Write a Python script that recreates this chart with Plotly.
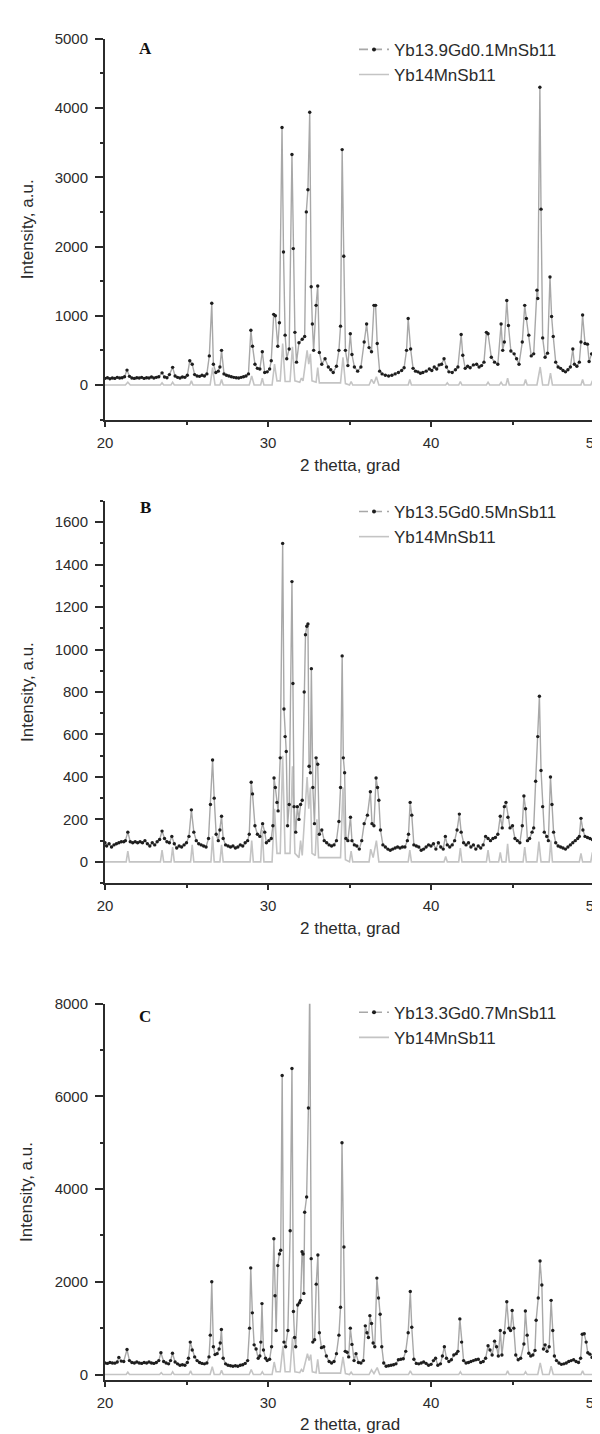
import plotly.graph_objects as go

# ---------------- data ----------------
X_TICKS = [20, 30, 40, 50]

A_NAME = "Yb13.9Gd0.1MnSb11"
B_NAME = "Yb13.5Gd0.5MnSb11"
C_NAME = "Yb13.3Gd0.7MnSb11"
REF_NAME = "Yb14MnSb11"

A_SAMPLE = [(20.0,95),(20.15,105),(20.3,90),(20.45,100),(20.6,95),(20.75,110),(20.9,100),(21.05,105),(21.2,120),(21.35,215),(21.5,125),(21.65,100),(21.8,95),(21.95,105),(22.1,100),(22.25,110),(22.4,95),(22.55,105),(22.7,100),(22.85,115),(23.0,100),(23.15,110),(23.3,120),(23.5,175),(23.65,115),(23.8,105),(23.95,150),(24.15,255),(24.3,130),(24.45,110),(24.6,100),(24.75,115),(24.9,110),(25.05,140),(25.2,350),(25.35,300),(25.5,150),(25.65,130),(25.8,125),(25.95,140),(26.1,130),(26.25,160),(26.4,420),(26.55,1180),(26.65,300),(26.8,180),(26.95,200),(27.05,260),(27.15,500),(27.3,160),(27.45,140),(27.6,130),(27.75,120),(27.9,110),(28.05,105),(28.2,100),(28.35,110),(28.5,120),(28.65,130),(28.8,160),(28.95,790),(29.05,560),(29.2,300),(29.35,240),(29.5,230),(29.65,480),(29.8,180),(29.95,190),(30.1,230),(30.2,350),(30.35,1020),(30.45,1000),(30.6,560),(30.7,900),(30.86,3720),(30.95,1920),(31.05,720),(31.15,380),(31.3,520),(31.47,3330),(31.55,1970),(31.65,760),(31.75,330),(31.9,610),(32.1,660),(32.25,700),(32.35,2500),(32.45,2820),(32.56,3940),(32.65,1420),(32.72,880),(32.8,500),(32.95,1150),(33.05,1430),(33.15,470),(33.3,300),(33.5,380),(33.7,260),(33.85,220),(34.0,180),(34.2,270),(34.35,500),(34.45,850),(34.55,3400),(34.65,1860),(34.75,500),(34.9,280),(35.05,740),(35.15,440),(35.3,260),(35.5,200),(35.7,260),(35.9,620),(36.05,880),(36.2,540),(36.35,480),(36.5,1150),(36.6,1150),(36.7,600),(36.85,200),(37.0,160),(37.2,140),(37.4,130),(37.6,140),(37.8,160),(38.0,180),(38.2,210),(38.35,250),(38.5,500),(38.6,960),(38.75,520),(38.9,240),(39.05,200),(39.2,190),(39.35,170),(39.5,180),(39.7,200),(39.9,230),(40.05,210),(40.2,260),(40.35,230),(40.5,290),(40.65,300),(40.8,380),(40.95,260),(41.1,190),(41.3,180),(41.5,220),(41.65,260),(41.85,730),(41.95,430),(42.1,240),(42.25,270),(42.4,250),(42.6,290),(42.8,300),(42.95,260),(43.1,280),(43.25,330),(43.4,760),(43.5,740),(43.7,400),(43.9,330),(44.1,300),(44.3,880),(44.4,500),(44.5,620),(44.65,1220),(44.75,860),(44.9,490),(45.1,450),(45.25,380),(45.4,300),(45.6,620),(45.75,1150),(45.85,960),(46.0,720),(46.15,420),(46.3,450),(46.5,1370),(46.55,1250),(46.68,4300),(46.75,2540),(46.85,680),(47.0,400),(47.15,460),(47.3,1560),(47.4,990),(47.5,700),(47.65,330),(47.8,260),(47.95,240),(48.1,210),(48.25,190),(48.4,220),(48.55,260),(48.7,520),(48.8,300),(48.95,270),(49.1,330),(49.2,620),(49.3,1010),(49.45,600),(49.6,590),(49.7,340),(49.85,450),(50.0,400)]

A_REF = [(20.0,0),(21.25,0),(21.4,40),(21.55,0),(23.4,0),(23.5,30),(23.6,0),(24.05,0),(24.15,40),(24.25,0),(25.2,0),(25.3,60),(25.4,0),(26.45,0),(26.6,250),(26.75,0),(27.05,0),(27.15,80),(27.25,0),(28.85,0),(29.0,130),(29.15,0),(29.55,0),(29.65,100),(29.75,0),(30.25,0),(30.4,300),(30.55,60),(30.75,60),(30.9,600),(31.05,50),(31.35,50),(31.5,550),(31.65,60),(31.95,40),(32.05,100),(32.15,60),(32.3,300),(32.4,500),(32.5,300),(32.6,450),(32.7,60),(32.95,40),(33.05,250),(33.15,30),(34.45,30),(34.6,400),(34.75,20),(35.0,0),(35.1,50),(35.2,0),(36.2,0),(36.35,80),(36.5,20),(36.65,120),(36.8,0),(38.6,0),(38.7,80),(38.8,0),(40.9,0),(41.0,30),(41.1,0),(41.7,0),(41.8,50),(41.9,0),(43.4,0),(43.5,40),(43.6,0),(44.2,0),(44.3,40),(44.4,0),(44.6,0),(44.7,100),(44.8,0),(45.7,0),(45.8,80),(45.9,0),(46.5,0),(46.7,260),(46.85,0),(47.2,0),(47.33,170),(47.45,0),(49.2,0),(49.3,80),(49.4,0),(49.8,0),(49.9,60),(50.0,0)]

B_SAMPLE = [(20.0,90),(20.1,75),(20.25,85),(20.4,70),(20.55,80),(20.7,85),(20.85,90),(21.0,95),(21.15,95),(21.25,100),(21.4,140),(21.55,95),(21.7,90),(21.85,95),(22.0,90),(22.15,95),(22.3,90),(22.45,100),(22.6,85),(22.75,75),(22.9,90),(23.05,80),(23.2,95),(23.35,105),(23.5,145),(23.65,110),(23.8,95),(23.95,90),(24.1,120),(24.25,85),(24.4,65),(24.55,75),(24.7,70),(24.85,80),(25.0,90),(25.15,120),(25.3,245),(25.45,140),(25.6,100),(25.75,85),(25.9,80),(26.05,75),(26.2,70),(26.35,110),(26.47,270),(26.6,480),(26.7,300),(26.82,130),(26.95,100),(27.05,150),(27.15,215),(27.25,110),(27.4,80),(27.55,75),(27.7,70),(27.85,75),(28.0,65),(28.15,70),(28.3,80),(28.45,75),(28.6,90),(28.75,100),(28.85,130),(28.97,375),(29.05,320),(29.2,170),(29.35,130),(29.5,120),(29.67,180),(29.8,140),(29.9,90),(30.05,100),(30.2,110),(30.3,170),(30.37,395),(30.45,350),(30.55,280),(30.62,240),(30.75,490),(30.9,1500),(30.98,720),(31.05,590),(31.12,520),(31.2,170),(31.3,270),(31.47,1320),(31.53,840),(31.6,260),(31.7,140),(31.8,260),(31.9,200),(32.0,270),(32.1,290),(32.22,800),(32.3,1070),(32.38,1110),(32.45,1120),(32.52,450),(32.6,420),(32.66,910),(32.75,350),(32.85,180),(32.95,490),(33.05,460),(33.15,130),(33.3,150),(33.45,100),(33.6,90),(33.75,80),(33.9,75),(34.05,80),(34.2,100),(34.35,190),(34.45,350),(34.55,970),(34.62,490),(34.7,420),(34.78,110),(34.9,100),(35.06,210),(35.15,100),(35.3,80),(35.45,75),(35.6,60),(35.75,100),(35.9,180),(36.1,220),(36.28,330),(36.38,180),(36.5,170),(36.63,395),(36.72,350),(36.8,290),(36.9,150),(37.05,80),(37.2,70),(37.35,60),(37.5,55),(37.65,60),(37.8,65),(37.95,70),(38.1,65),(38.25,70),(38.4,70),(38.55,100),(38.62,130),(38.72,280),(38.82,220),(38.95,80),(39.1,75),(39.25,70),(39.4,55),(39.55,60),(39.7,70),(39.85,80),(40.0,75),(40.15,85),(40.3,60),(40.45,90),(40.6,70),(40.75,60),(40.88,120),(41.0,80),(41.15,70),(41.3,80),(41.45,100),(41.6,150),(41.74,225),(41.85,140),(42.0,90),(42.15,80),(42.3,90),(42.45,70),(42.6,80),(42.75,60),(42.9,75),(43.05,65),(43.2,80),(43.35,120),(43.5,110),(43.65,100),(43.8,110),(43.95,115),(44.1,130),(44.25,215),(44.37,160),(44.5,260),(44.6,280),(44.72,210),(44.85,160),(45.0,170),(45.15,110),(45.3,100),(45.45,90),(45.6,170),(45.7,310),(45.8,250),(45.92,100),(46.05,110),(46.2,140),(46.3,160),(46.42,380),(46.55,590),(46.65,780),(46.75,430),(46.85,260),(46.95,140),(47.1,120),(47.2,100),(47.33,400),(47.42,270),(47.52,140),(47.65,90),(47.8,75),(47.95,70),(48.1,65),(48.25,60),(48.4,70),(48.55,80),(48.7,90),(48.85,100),(49.0,110),(49.1,120),(49.2,205),(49.32,150),(49.45,120),(49.6,115),(49.75,110),(49.9,105),(50.0,100)]

B_REF = [(20.0,0),(21.3,0),(21.4,50),(21.5,0),(23.4,0),(23.5,55),(23.6,0),(24.05,0),(24.15,70),(24.25,0),(25.25,0),(25.35,80),(25.45,0),(26.5,0),(26.6,120),(26.7,0),(27.05,0),(27.15,80),(27.25,0),(28.9,0),(29.0,100),(29.1,0),(29.55,0),(29.65,150),(29.75,0),(30.25,0),(30.4,250),(30.55,40),(30.75,40),(30.9,500),(31.05,40),(31.35,40),(31.5,450),(31.65,40),(31.9,20),(32.0,100),(32.1,30),(32.3,250),(32.4,400),(32.5,250),(32.6,350),(32.7,40),(32.9,30),(33.0,200),(33.1,20),(34.45,20),(34.6,350),(34.75,10),(35.0,0),(35.1,50),(35.2,0),(36.2,0),(36.3,60),(36.45,20),(36.65,100),(36.8,0),(38.6,0),(38.7,55),(38.8,0),(40.8,0),(40.9,25),(41.0,0),(41.7,0),(41.8,65),(41.9,0),(43.4,0),(43.5,55),(43.6,0),(44.15,0),(44.25,45),(44.35,0),(44.6,0),(44.7,85),(44.8,0),(45.65,0),(45.75,70),(45.85,0),(46.5,0),(46.62,95),(46.75,0),(47.25,0),(47.35,100),(47.45,0),(49.1,0),(49.2,40),(49.3,0),(49.8,0),(49.9,45),(50.0,0)]

C_SAMPLE = [(20.0,250),(20.15,240),(20.3,260),(20.45,250),(20.6,245),(20.75,270),(20.85,370),(21.0,290),(21.15,280),(21.35,540),(21.5,300),(21.65,260),(21.8,250),(21.95,270),(22.1,250),(22.25,240),(22.4,260),(22.55,250),(22.7,270),(22.85,250),(23.0,240),(23.15,260),(23.3,300),(23.43,470),(23.6,280),(23.75,250),(23.9,230),(24.02,300),(24.14,460),(24.3,270),(24.45,230),(24.6,200),(24.75,210),(24.9,200),(25.05,260),(25.12,350),(25.23,700),(25.35,530),(25.5,380),(25.65,300),(25.8,260),(25.95,240),(26.1,230),(26.25,250),(26.38,380),(26.46,850),(26.55,2000),(26.65,600),(26.75,430),(26.88,450),(27.0,550),(27.07,680),(27.14,970),(27.25,350),(27.4,230),(27.55,200),(27.7,190),(27.85,180),(28.0,190),(28.15,180),(28.3,200),(28.45,210),(28.6,240),(28.75,300),(28.87,1000),(28.94,2300),(29.04,1330),(29.15,640),(29.27,550),(29.4,350),(29.5,400),(29.56,700),(29.63,1530),(29.72,530),(29.85,350),(29.95,300),(30.1,330),(30.22,600),(30.36,2930),(30.43,1700),(30.5,950),(30.6,2350),(30.7,2600),(30.78,2680),(30.87,6450),(30.98,700),(31.08,600),(31.22,950),(31.36,3100),(31.47,6600),(31.56,1360),(31.63,800),(31.7,600),(31.82,1500),(31.93,1550),(32.0,1600),(32.09,2650),(32.15,2600),(32.2,1750),(32.25,3500),(32.37,3830),(32.48,5750),(32.56,8400),(32.65,2500),(32.75,700),(32.86,750),(32.96,1950),(33.06,2580),(33.15,900),(33.28,580),(33.42,600),(33.58,400),(33.75,280),(33.9,250),(34.05,280),(34.2,450),(34.35,850),(34.45,1450),(34.54,5000),(34.66,2750),(34.74,500),(34.85,480),(34.95,380),(35.05,1000),(35.15,650),(35.28,300),(35.4,450),(35.55,260),(35.7,250),(35.85,300),(35.97,1050),(36.07,900),(36.16,800),(36.25,1270),(36.35,1100),(36.45,680),(36.55,600),(36.68,2080),(36.78,1650),(36.88,1300),(36.98,600),(37.1,250),(37.25,180),(37.4,190),(37.55,200),(37.7,210),(37.85,230),(38.0,320),(38.15,330),(38.3,340),(38.45,500),(38.6,900),(38.73,1790),(38.82,1020),(38.95,330),(39.1,240),(39.25,230),(39.4,250),(39.55,270),(39.7,240),(39.85,200),(40.0,220),(40.15,300),(40.28,350),(40.42,200),(40.58,230),(40.7,400),(40.82,600),(40.95,350),(41.1,280),(41.25,320),(41.4,420),(41.55,450),(41.65,500),(41.77,1200),(41.88,700),(42.0,300),(42.15,250),(42.3,260),(42.45,280),(42.6,300),(42.75,320),(42.9,330),(43.05,260),(43.2,280),(43.35,350),(43.5,620),(43.62,530),(43.75,420),(43.9,720),(44.02,600),(44.13,400),(44.25,950),(44.35,420),(44.5,900),(44.65,1570),(44.78,1000),(44.88,950),(44.98,1380),(45.08,1000),(45.2,420),(45.35,320),(45.5,350),(45.7,660),(45.79,1370),(45.9,850),(46.0,460),(46.12,400),(46.25,420),(46.38,520),(46.45,1170),(46.58,1650),(46.69,2450),(46.8,1930),(46.9,550),(47.0,640),(47.12,500),(47.25,600),(47.37,1600),(47.47,950),(47.57,400),(47.7,300),(47.85,250),(48.0,220),(48.15,230),(48.3,250),(48.45,280),(48.6,300),(48.75,320),(48.9,280),(49.05,260),(49.18,350),(49.28,870),(49.4,880),(49.52,700),(49.62,470),(49.75,440),(49.88,370),(50.0,450)]

C_REF = [(20.0,0),(21.3,0),(21.4,50),(21.5,0),(23.35,0),(23.45,40),(23.55,0),(24.05,0),(24.15,60),(24.25,0),(25.15,0),(25.25,80),(25.35,0),(26.45,0),(26.58,170),(26.7,0),(27.05,0),(27.15,90),(27.25,0),(28.85,0),(28.97,110),(29.1,0),(29.55,0),(29.65,60),(29.75,0),(30.25,0),(30.38,270),(30.5,60),(30.75,60),(30.92,620),(31.05,60),(31.35,60),(31.5,800),(31.65,60),(31.95,40),(32.05,110),(32.15,60),(32.3,300),(32.42,450),(32.52,300),(32.62,430),(32.72,60),(32.95,40),(33.05,330),(33.15,30),(34.45,30),(34.6,380),(34.75,20),(35.0,0),(35.1,50),(35.2,0),(36.2,0),(36.35,100),(36.5,20),(36.7,150),(36.85,0),(38.62,0),(38.73,80),(38.85,0),(41.7,0),(41.8,60),(41.9,0),(44.6,0),(44.7,80),(44.8,0),(45.7,0),(45.8,60),(45.9,0),(46.55,0),(46.7,250),(46.85,0),(47.25,0),(47.37,180),(47.5,0),(49.2,0),(49.3,80),(49.4,0),(50.0,0)]

# ---------------- layout geometry ----------------
W, H = 600, 1434
L, R = 97, 14
PW = W - L - R

def fy(p):
    return 1 - p / H

def fx(p):
    return (p - L) / PW

FONT = "Liberation Sans, Arial, sans-serif"
AX = "#2b2b2b"
SAMPLE_LINE = "#a8a8a8"
REF_LINE = "#c4c4c4"
DOT = "#1e1e1e"

panels = [
    dict(sample=A_SAMPLE, ref=A_REF, name=A_NAME, yr=[-500, 5000], dtick=1000, minor=500,
         top=22, bottom=406, letter="A", letter_y=32, leg_top=15, xt_y=452),
    dict(sample=B_SAMPLE, ref=B_REF, name=B_NAME, yr=[-100, 1700], dtick=200, minor=100,
         top=488, bottom=873.4, letter="B", letter_y=495, leg_top=481, xt_y=919),
    dict(sample=C_SAMPLE, ref=C_REF, name=C_NAME, yr=[-120, 8000], dtick=2000, minor=1000,
         top=995, bottom=1374.6, letter="C", letter_y=1008, leg_top=986, xt_y=1419),
]

fig = go.Figure()
layout = dict(
    width=W, height=H,
    margin=dict(l=L, r=R, t=0, b=0),
    paper_bgcolor="white", plot_bgcolor="white",
    font=dict(family=FONT, color=AX, size=15),
    showlegend=True,
    annotations=[],
)

for i, p in enumerate(panels):
    n = "" if i == 0 else str(i + 1)
    xa, ya = "x" + n, "y" + n
    leg = "legend" + n
    sx = [v[0] for v in p["sample"]]
    sy = [v[1] for v in p["sample"]]
    rx = [v[0] for v in p["ref"]]
    ry = [v[1] for v in p["ref"]]

    fig.add_trace(go.Scatter(x=rx, y=ry, mode="lines", xaxis=xa, yaxis=ya,
                             line=dict(color=REF_LINE, width=1.6), showlegend=False,
                             hoverinfo="skip"))
    fig.add_trace(go.Scatter(x=sx, y=sy, mode="lines+markers", xaxis=xa, yaxis=ya,
                             line=dict(color=SAMPLE_LINE, width=1.4),
                             marker=dict(color=DOT, size=3.4),
                             showlegend=False, hoverinfo="skip"))
    # legend entries
    fig.add_trace(go.Scatter(x=[None], y=[None], mode="lines+markers", xaxis=xa, yaxis=ya,
                             name=p["name"], legend=leg,
                             line=dict(color=SAMPLE_LINE, width=1.6, dash="9px,5px"),
                             marker=dict(color=DOT, size=4)))
    fig.add_trace(go.Scatter(x=[None], y=[None], mode="lines", xaxis=xa, yaxis=ya,
                             name=REF_NAME, legend=leg,
                             line=dict(color=REF_LINE, width=1.6)))

    dom = [fy(p["bottom"]), fy(p["top"])]
    layout["xaxis" + n] = dict(
        domain=[0, 1], anchor=ya, range=[20, 50], tickmode="array", tickvals=X_TICKS,
        showline=True, linecolor=AX, linewidth=2, ticks="outside", ticklen=5,
        tickwidth=1.5, tickcolor=AX, showgrid=False, zeroline=False,
        tickfont=dict(size=15, color=AX), ticklabelstandoff=3,
        minor=dict(tickvals=[25, 35, 45], ticks="outside", ticklen=3, tickwidth=1.5,
                   tickcolor=AX),
    )
    layout["yaxis" + n] = dict(
        domain=dom, anchor=xa, range=p["yr"], tick0=0, dtick=p["dtick"],
        showline=True, linecolor=AX, linewidth=2, ticks="outside", ticklen=8,
        tickwidth=1.5, tickcolor=AX, showgrid=False, zeroline=False,
        tickfont=dict(size=15, color=AX), ticklabelstandoff=4,
        minor=dict(dtick=p["minor"], tick0=0, ticks="outside", ticklen=3, tickwidth=1.5,
                   tickcolor=AX),
    )
    layout[leg] = dict(
        x=fx(346), y=fy(p["leg_top"]), xanchor="left", yanchor="top",
        bgcolor="rgba(0,0,0,0)", borderwidth=0,
        font=dict(size=17, color=AX, family=FONT), tracegroupgap=0,
    )
    mid = (p["top"] + p["bottom"]) / 2
    layout["annotations"] += [
        dict(text="<b>" + p["letter"] + "</b>", x=fx(137), y=fy(p["letter_y"]),
             xref="paper", yref="paper", showarrow=False, xanchor="center", yanchor="middle",
             font=dict(family="Liberation Serif, Times New Roman, serif", size=17, color="#111")),
        dict(text="Intensity, a.u.", x=fx(19), y=fy(mid), xref="paper", yref="paper",
             showarrow=False, textangle=-90, xanchor="center", yanchor="middle",
             font=dict(size=17, color=AX)),
        dict(text="2 thetta, grad", x=0.5, y=fy(p["xt_y"]), xref="paper", yref="paper",
             showarrow=False, xanchor="center", yanchor="middle",
             font=dict(size=17, color=AX)),
    ]

fig.update_layout(**layout)
fig.write_html("out.html")
